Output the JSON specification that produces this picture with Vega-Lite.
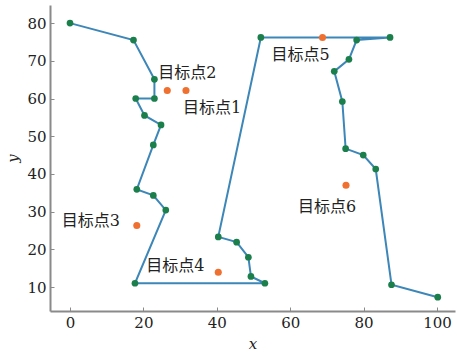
{
  "$schema": "https://vega.github.io/schema/vega-lite/v6.json",
  "width": 405,
  "height": 306,
  "autosize": "none",
  "padding": {"left": 50, "top": 5, "right": 2, "bottom": 49},
  "background": "white",
  "config": {
    "view": {"stroke": null},
    "axis": {
      "grid": false,
      "domainColor": "#8a8a8a",
      "domainWidth": 2,
      "tickColor": "#8a8a8a",
      "tickSize": -4,
      "labelFont": "DejaVu Serif",
      "labelFontSize": 15,
      "labelColor": "#222",
      "titleFont": "DejaVu Serif",
      "titleFontStyle": "italic",
      "titleFontWeight": "normal",
      "titleFontSize": 15,
      "titleColor": "#222"
    }
  },
  "datasets": {
    "path": [
      {"order": 1, "x": 0, "y": 80},
      {"order": 2, "x": 17.3, "y": 75.5},
      {"order": 3, "x": 23, "y": 65.1},
      {"order": 4, "x": 23, "y": 60},
      {"order": 5, "x": 17.9, "y": 60},
      {"order": 6, "x": 20.3, "y": 55.5},
      {"order": 7, "x": 24.8, "y": 53},
      {"order": 8, "x": 22.7, "y": 47.7},
      {"order": 9, "x": 18.2, "y": 35.9},
      {"order": 10, "x": 22.7, "y": 34.3},
      {"order": 11, "x": 26.1, "y": 30.4},
      {"order": 12, "x": 17.7, "y": 11.0},
      {"order": 13, "x": 53.1, "y": 11.0},
      {"order": 14, "x": 49.3, "y": 12.8},
      {"order": 15, "x": 48.6, "y": 17.9},
      {"order": 16, "x": 45.4, "y": 21.9},
      {"order": 17, "x": 40.4, "y": 23.3},
      {"order": 18, "x": 52, "y": 76.2},
      {"order": 19, "x": 87.2, "y": 76.2},
      {"order": 20, "x": 78.1, "y": 75.5},
      {"order": 21, "x": 76, "y": 70.4},
      {"order": 22, "x": 72, "y": 67.2},
      {"order": 23, "x": 74.2, "y": 59.2},
      {"order": 24, "x": 75.1, "y": 46.7},
      {"order": 25, "x": 79.9, "y": 45},
      {"order": 26, "x": 83.3, "y": 41.3},
      {"order": 27, "x": 87.6, "y": 10.6},
      {"order": 28, "x": 100.2, "y": 7.3}
    ],
    "targets": [
      {"name": "目标点1", "id": 1, "x": 31.6, "y": 62.1},
      {"name": "目标点2", "id": 2, "x": 26.5, "y": 62.1},
      {"name": "目标点3", "id": 3, "x": 18.2, "y": 26.3},
      {"name": "目标点4", "id": 4, "x": 40.4, "y": 13.9},
      {"name": "目标点5", "id": 5, "x": 68.8, "y": 76.2},
      {"name": "目标点6", "id": 6, "x": 75.2, "y": 37}
    ]
  },
  "layer": [
    {
      "data": {"name": "path"},
      "mark": {"type": "line", "color": "#3d86b8", "strokeWidth": 2},
      "encoding": {
        "x": {"field": "x", "type": "quantitative", "scale": {"domain": [-5.45, 104.9], "nice": false, "zero": false}, "axis": {"values": [0, 20, 40, 60, 80, 100], "title": "x", "labelPadding": 8, "titlePadding": 6}},
        "y": {"field": "y", "type": "quantitative", "scale": {"domain": [3.64, 84.8], "nice": false, "zero": false}, "axis": {"values": [10, 20, 30, 40, 50, 60, 70, 80], "title": "y", "labelPadding": 8, "titlePadding": 6}},
        "order": {"field": "order", "type": "quantitative"}
      }
    },
    {
      "data": {"name": "path"},
      "mark": {"type": "circle", "color": "#1b7f4c", "size": 45, "opacity": 1},
      "encoding": {
        "x": {"field": "x", "type": "quantitative"},
        "y": {"field": "y", "type": "quantitative"}
      }
    },
    {
      "data": {"name": "targets"},
      "mark": {"type": "circle", "color": "#f07030", "size": 50, "opacity": 1},
      "encoding": {
        "x": {"field": "x", "type": "quantitative"},
        "y": {"field": "y", "type": "quantitative"}
      }
    },
    {
      "data": {"name": "targets"},
      "transform": [{"filter": "datum.id == 1"}],
      "mark": {"type": "text", "align": "left", "baseline": "middle", "dx": -3, "dy": 17, "font": "DejaVu Serif, Noto Sans CJK SC", "fontSize": 16, "color": "#222"},
      "encoding": {"x": {"field": "x", "type": "quantitative"}, "y": {"field": "y", "type": "quantitative"}, "text": {"field": "name"}}
    },
    {
      "data": {"name": "targets"},
      "transform": [{"filter": "datum.id == 2"}],
      "mark": {"type": "text", "align": "left", "baseline": "middle", "dx": -9, "dy": -18, "font": "DejaVu Serif, Noto Sans CJK SC", "fontSize": 16, "color": "#222"},
      "encoding": {"x": {"field": "x", "type": "quantitative"}, "y": {"field": "y", "type": "quantitative"}, "text": {"field": "name"}}
    },
    {
      "data": {"name": "targets"},
      "transform": [{"filter": "datum.id == 3"}],
      "mark": {"type": "text", "align": "left", "baseline": "middle", "dx": -75, "dy": -5, "font": "DejaVu Serif, Noto Sans CJK SC", "fontSize": 16, "color": "#222"},
      "encoding": {"x": {"field": "x", "type": "quantitative"}, "y": {"field": "y", "type": "quantitative"}, "text": {"field": "name"}}
    },
    {
      "data": {"name": "targets"},
      "transform": [{"filter": "datum.id == 4"}],
      "mark": {"type": "text", "align": "left", "baseline": "middle", "dx": -72, "dy": -6, "font": "DejaVu Serif, Noto Sans CJK SC", "fontSize": 16, "color": "#222"},
      "encoding": {"x": {"field": "x", "type": "quantitative"}, "y": {"field": "y", "type": "quantitative"}, "text": {"field": "name"}}
    },
    {
      "data": {"name": "targets"},
      "transform": [{"filter": "datum.id == 5"}],
      "mark": {"type": "text", "align": "left", "baseline": "middle", "dx": -51, "dy": 18, "font": "DejaVu Serif, Noto Sans CJK SC", "fontSize": 16, "color": "#222"},
      "encoding": {"x": {"field": "x", "type": "quantitative"}, "y": {"field": "y", "type": "quantitative"}, "text": {"field": "name"}}
    },
    {
      "data": {"name": "targets"},
      "transform": [{"filter": "datum.id == 6"}],
      "mark": {"type": "text", "align": "left", "baseline": "middle", "dx": -48, "dy": 22, "font": "DejaVu Serif, Noto Sans CJK SC", "fontSize": 16, "color": "#222"},
      "encoding": {"x": {"field": "x", "type": "quantitative"}, "y": {"field": "y", "type": "quantitative"}, "text": {"field": "name"}}
    }
  ]
}
